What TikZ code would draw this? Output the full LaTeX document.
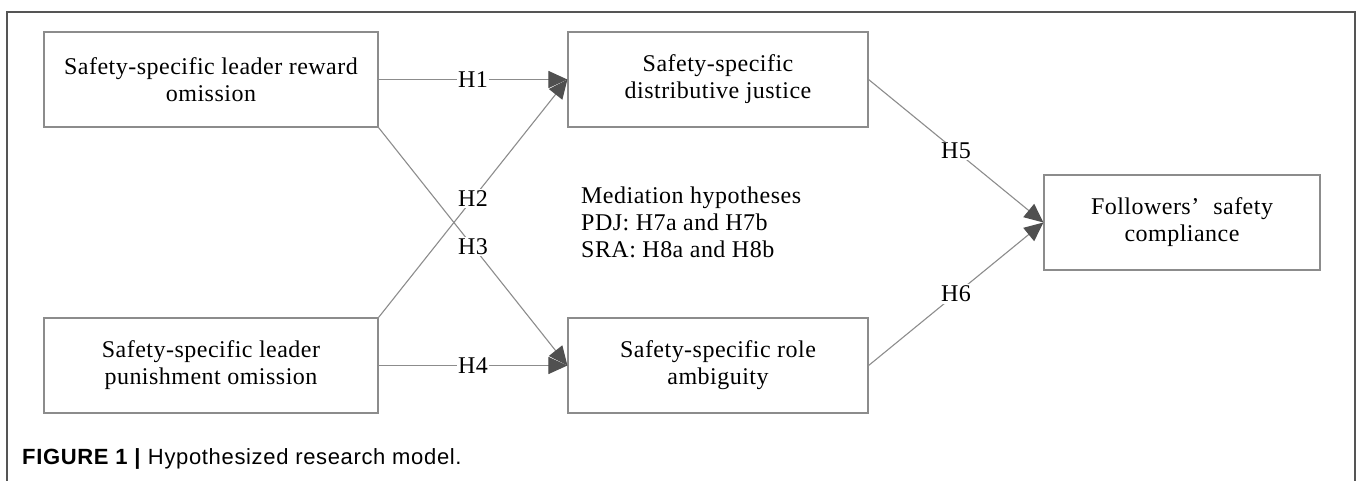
\documentclass[tikz,border=0pt]{standalone}
\usepackage{fontspec}
\setmainfont{Liberation Serif}[LetterSpace=2]
\newfontfamily\captionfont{Liberation Sans}[LetterSpace=3]
\usepackage{tikz}
\usetikzlibrary{positioning}
\usetikzlibrary{arrows.meta}
\definecolor{linegray}{RGB}{140,140,140}
\definecolor{headgray}{RGB}{80,80,80}
\definecolor{framegray}{RGB}{85,85,85}

\begin{document}
\begin{tikzpicture}[x=1pt,y=-1pt,
    every node/.style={font=\fontsize{24}{27}\selectfont},
    construct/.style={draw=linegray, line width=1.2pt, minimum height=95pt,
      align=center, inner sep=0pt},
    hyp/.style={fill=white, inner sep=1.5pt},
    link/.style={draw=linegray, line width=1.1pt,
      -{Triangle[length=19pt,width=17pt,color=headgray]}}]

      \useasboundingbox (0,0) rectangle (1357,480);
      \begin{scope}
        \clip (0,0) rectangle (1357,480);
        \draw[framegray, line width=1.5pt] (7,12) rectangle (1355,520);
      \end{scope}

      \def\widebox{334pt}
      \def\narrowbox{300pt}

      \node (reward)     at (211, 79.5) [construct, minimum width=\widebox]
        {Safety-specific leader reward\\omission};
      \node (punish)     at (211,365.5) [construct, minimum width=\widebox]
        {Safety-specific leader\\punishment omission};
      \node (justice)    at (718, 79.5) [construct, minimum width=\narrowbox]
        {Safety-specific\\distributive justice};
      \node (ambiguity)  at (718,365.5) [construct, minimum width=\narrowbox]
        {Safety-specific role\\ambiguity};
      \node (compliance) at (1182,222.5) [construct, minimum width=276pt]
        {Followers’\hspace{14pt}safety\\compliance};

      \node (mediation)  at (581,222.5) [anchor=west, align=left, inner sep=0pt] {
        Mediation hypotheses\\
        PDJ: H7a and H7b\\
        SRA: H8a and H8b};

      \draw[link] (reward) -- node[hyp] {H1} (justice);
      \draw[link] (punish.north east) -- node[hyp] {H2} (justice.west);
      \draw[link] (reward.south east) -- node[hyp] {H3} (ambiguity.west);
      \draw[link] (punish) -- node[hyp] {H4} (ambiguity);
      \draw[link] (justice.east) -- node[hyp] {H5} (compliance.west);
      \draw[link] (ambiguity.east) -- node[hyp] {H6} (compliance.west);

      \node (caption) at (22,459) [anchor=west, inner sep=0pt,
        font=\captionfont\fontsize{22}{24}\selectfont]
        {\textbf{FIGURE 1 |} Hypothesized research model.};

    \end{tikzpicture}
\end{document}
